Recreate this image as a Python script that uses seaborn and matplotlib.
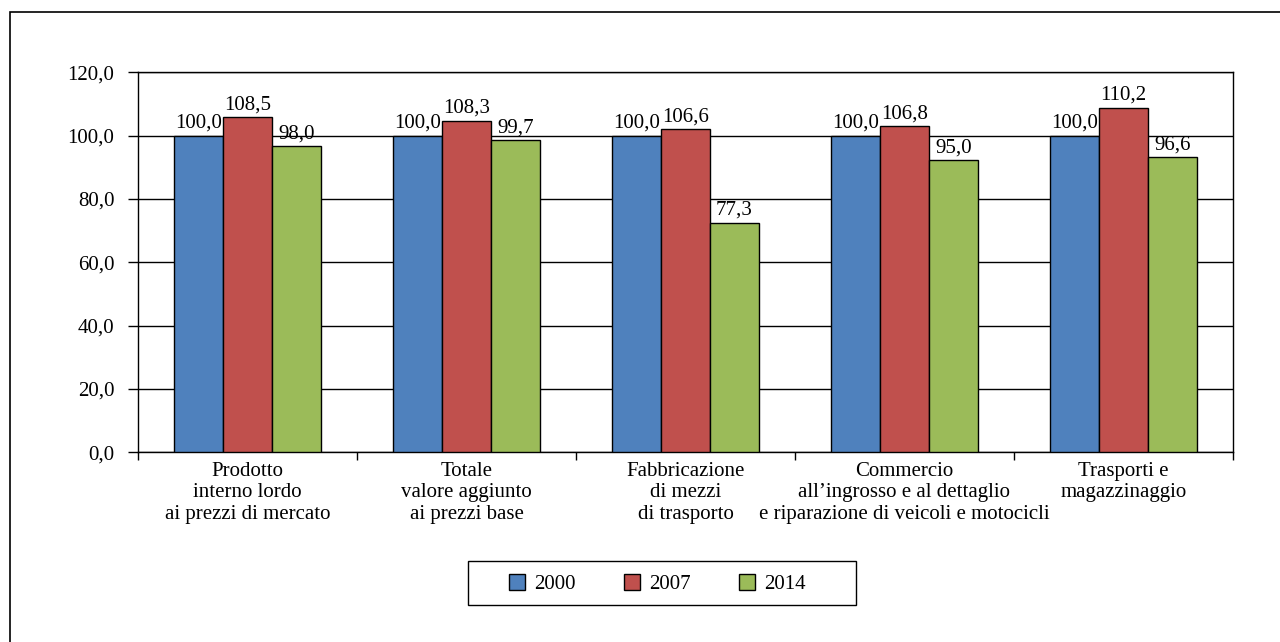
import numpy as np
import pandas as pd
import matplotlib
matplotlib.use('Agg')
import matplotlib.pyplot as plt
from matplotlib.patches import Rectangle
from matplotlib.ticker import FixedLocator
import seaborn as sns

# Categories and series
categories = [
    "Prodotto\ninterno lordo\nai prezzi di mercato",
    "Totale\nvalore aggiunto\nai prezzi base",
    "Fabbricazione\ndi mezzi\ndi trasporto",
    "Commercio\nall\u2019ingrosso e al dettaglio\ne riparazione di veicoli e motocicli",
    "Trasporti e\nmagazzinaggio",
]
years = ["2000", "2007", "2014"]

# bar heights as drawn in the picture
h_2000 = [100.0, 100.0, 100.0, 100.0, 100.0]
h_2007 = [105.8, 104.7, 102.0, 102.9, 108.8]
h_2014 = [96.7, 98.6, 72.5, 92.3, 93.2]

# data labels as printed above the bars
lab_2000 = ["100,0", "100,0", "100,0", "100,0", "100,0"]
lab_2007 = ["108,5", "108,3", "106,6", "106,8", "110,2"]
lab_2014 = ["98,0", "99,7", "77,3", "95,0", "96,6"]

y_ticks = [0, 20, 40, 60, 80, 100, 120]
y_ticklabels = ["0,0", "20,0", "40,0", "60,0", "80,0", "100,0", "120,0"]

colors = ["#4F81BD", "#C0504D", "#9BBB59"]

df = pd.DataFrame({
    "cat": categories * 3,
    "year": [y for y in years for _ in categories],
    "value": h_2000 + h_2007 + h_2014,
})

sns.set_theme(style="white")
plt.rcParams['font.family'] = ['Liberation Serif', 'DejaVu Serif']
plt.rcParams['text.color'] = 'black'
plt.rcParams['xtick.color'] = 'black'
plt.rcParams['ytick.color'] = 'black'
plt.rcParams['axes.labelcolor'] = 'black'

FS = 15

fig = plt.figure(figsize=(12.8, 6.42), dpi=100)
ax = fig.add_axes([138 / 1280, 1 - 452.3 / 642, (1233 - 138) / 1280, (452.3 - 72.3) / 642])

sns.barplot(data=df, x="cat", y="value", hue="year", palette=colors,
            width=0.667, gap=0, edgecolor="black", linewidth=1.0,
            saturation=1, ax=ax, zorder=3, legend=True)

# labels above the bars
for cont, labs in zip(ax.containers, [lab_2000, lab_2007, lab_2014]):
    ax.bar_label(cont, labels=labs, padding=2, fontsize=FS, color="black")

ax.set_ylim(0, 120)
ax.set_xlim(-0.5, len(categories) - 0.5)
ax.yaxis.set_major_locator(FixedLocator(y_ticks))
ax.set_yticklabels(y_ticklabels, fontsize=FS)
ax.grid(axis="y", color="black", linewidth=1.0, zorder=0)
ax.set_axisbelow(True)

# category labels at centres, tick marks at group boundaries
ax.set_xticks(range(len(categories)))
ax.set_xticklabels(categories, fontsize=FS, linespacing=1.17)
ax.xaxis.set_minor_locator(FixedLocator(np.arange(-0.5, len(categories), 1.0)))
ax.tick_params(axis="x", which="major", length=0, pad=7)
ax.tick_params(axis="x", which="minor", length=6, width=1, direction="out", bottom=True)
ax.tick_params(axis="y", which="major", length=7, width=1, direction="out", left=True, pad=10)
ax.set_xlabel("")
ax.set_ylabel("")

for side in ["left", "right", "top", "bottom"]:
    ax.spines[side].set_visible(True)
    ax.spines[side].set_color("black")
    ax.spines[side].set_linewidth(1.0)

# legend (entries without frame, box drawn separately)
handles, labels = ax.get_legend_handles_labels()
if ax.legend_:
    ax.legend_.remove()
leg = fig.legend(handles, labels, loc="center", bbox_to_anchor=(657.5 / 1280, 1 - 584 / 642),
                 ncol=3, frameon=False, fontsize=FS,
                 handlelength=0.78, handleheight=0.78, handletextpad=0.45,
                 columnspacing=2.3)
for h in leg.legend_handles:
    h.set_edgecolor("black")
    h.set_linewidth(1.0)
fig.patches.append(Rectangle((468 / 1280, 1 - 605 / 642), (856 - 468) / 1280, 44 / 642,
                             transform=fig.transFigure, fill=False,
                             edgecolor="black", linewidth=1.0))

# outer frame of the figure box
fig.patches.append(Rectangle((9.5 / 1280, -0.1), 1.2, 1 - 12 / 642 + 0.1,
                             transform=fig.transFigure, fill=False,
                             edgecolor="black", linewidth=1.2))

fig.savefig("out.png", dpi=100, facecolor="white")
